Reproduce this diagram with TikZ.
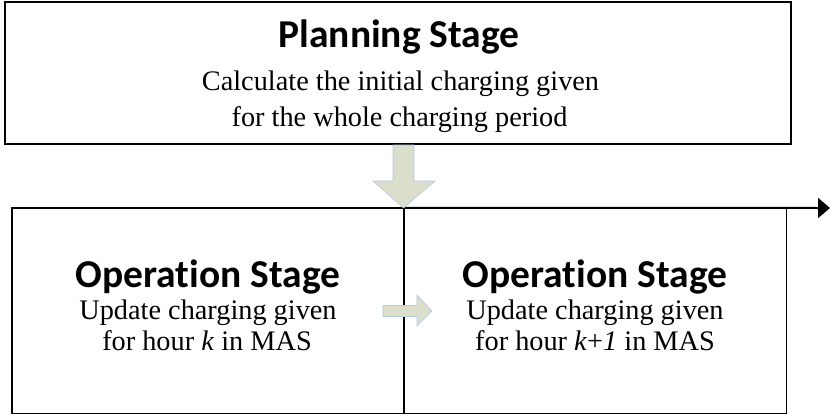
\documentclass[tikz,border=0pt]{standalone}
\usepackage{fontspec}
\setmainfont{Liberation Serif}
\newfontfamily\calibri{Carlito}[RawFeature={-liga}]
\usetikzlibrary{arrows.meta}
\definecolor{arrfill}{RGB}{218,222,202}
\definecolor{arrdraw}{RGB}{178,200,232}
\tikzset{
  stagebox/.style={draw=black, line width=1.4pt, fill=none},
  headtxt/.style={inner sep=0pt, anchor=base, font=\calibri\bfseries\fontsize{39.5}{40}\selectfont},
  bodytxt/.style={inner sep=0pt, anchor=base, font=\fontsize{28.3}{30}\selectfont},
  fatarrow/.style={fill=arrfill, draw=arrdraw, line width=0.6pt, line join=miter},
  timeline/.style={draw=black, line width=2pt, -{Triangle[length=12pt,width=20pt]}}
}
\begin{document}
\begin{tikzpicture}[x=1pt,y=-1pt]
\useasboundingbox (0,0) rectangle (830,416);
% boxes
\draw[stagebox] (5,2) rectangle (791,144);
\node[inner sep=0pt, minimum width=392pt, minimum height=205pt] (opk) at (208,310.5) {};
\node[inner sep=0pt, minimum width=382pt, minimum height=205pt] (opk1) at (595,310.5) {};
\draw[stagebox] (opk.north west) rectangle (opk.south east);
\draw[stagebox] (opk1.north west) rectangle (opk1.south east);
% timeline arrow
\coordinate (tend) at (830,208);
\draw[timeline] (opk1.north west) -- (tend);
% big down arrow
\draw[fatarrow] (393,145) -- (414,145) -- (414,181) -- (435,181) -- (403.5,208) -- (373,181) -- (393,181) -- cycle;
% small right arrow
\draw[fatarrow] (383,305.5) -- (417,305.5) -- (417,295) -- (432,311) -- (417,326) -- (417,316.5) -- (383,316.5) -- cycle;
% texts
\node[headtxt] (plh) at (399,47) {Planning Stage};
\node[bodytxt] (pl1) at (400.5,90) {Calculate the initial charging given};
\node[bodytxt] (pl2) at (399.5,126) {for the whole charging period};
\node[headtxt] (okh) at (208,287) {Operation Stage};
\node[bodytxt] (ok1) at (208,319) {Update charging given};
\node[bodytxt] (ok2) at (207,350) {for hour \textit{k} in MAS};
\node[headtxt] (o1h) at (595,287) {Operation Stage};
\node[bodytxt] (o11) at (595,319) {Update charging given};
\node[bodytxt] (o12) at (595,350) {for hour \textit{k}+\textit{1} in MAS};
\end{tikzpicture}
\end{document}
